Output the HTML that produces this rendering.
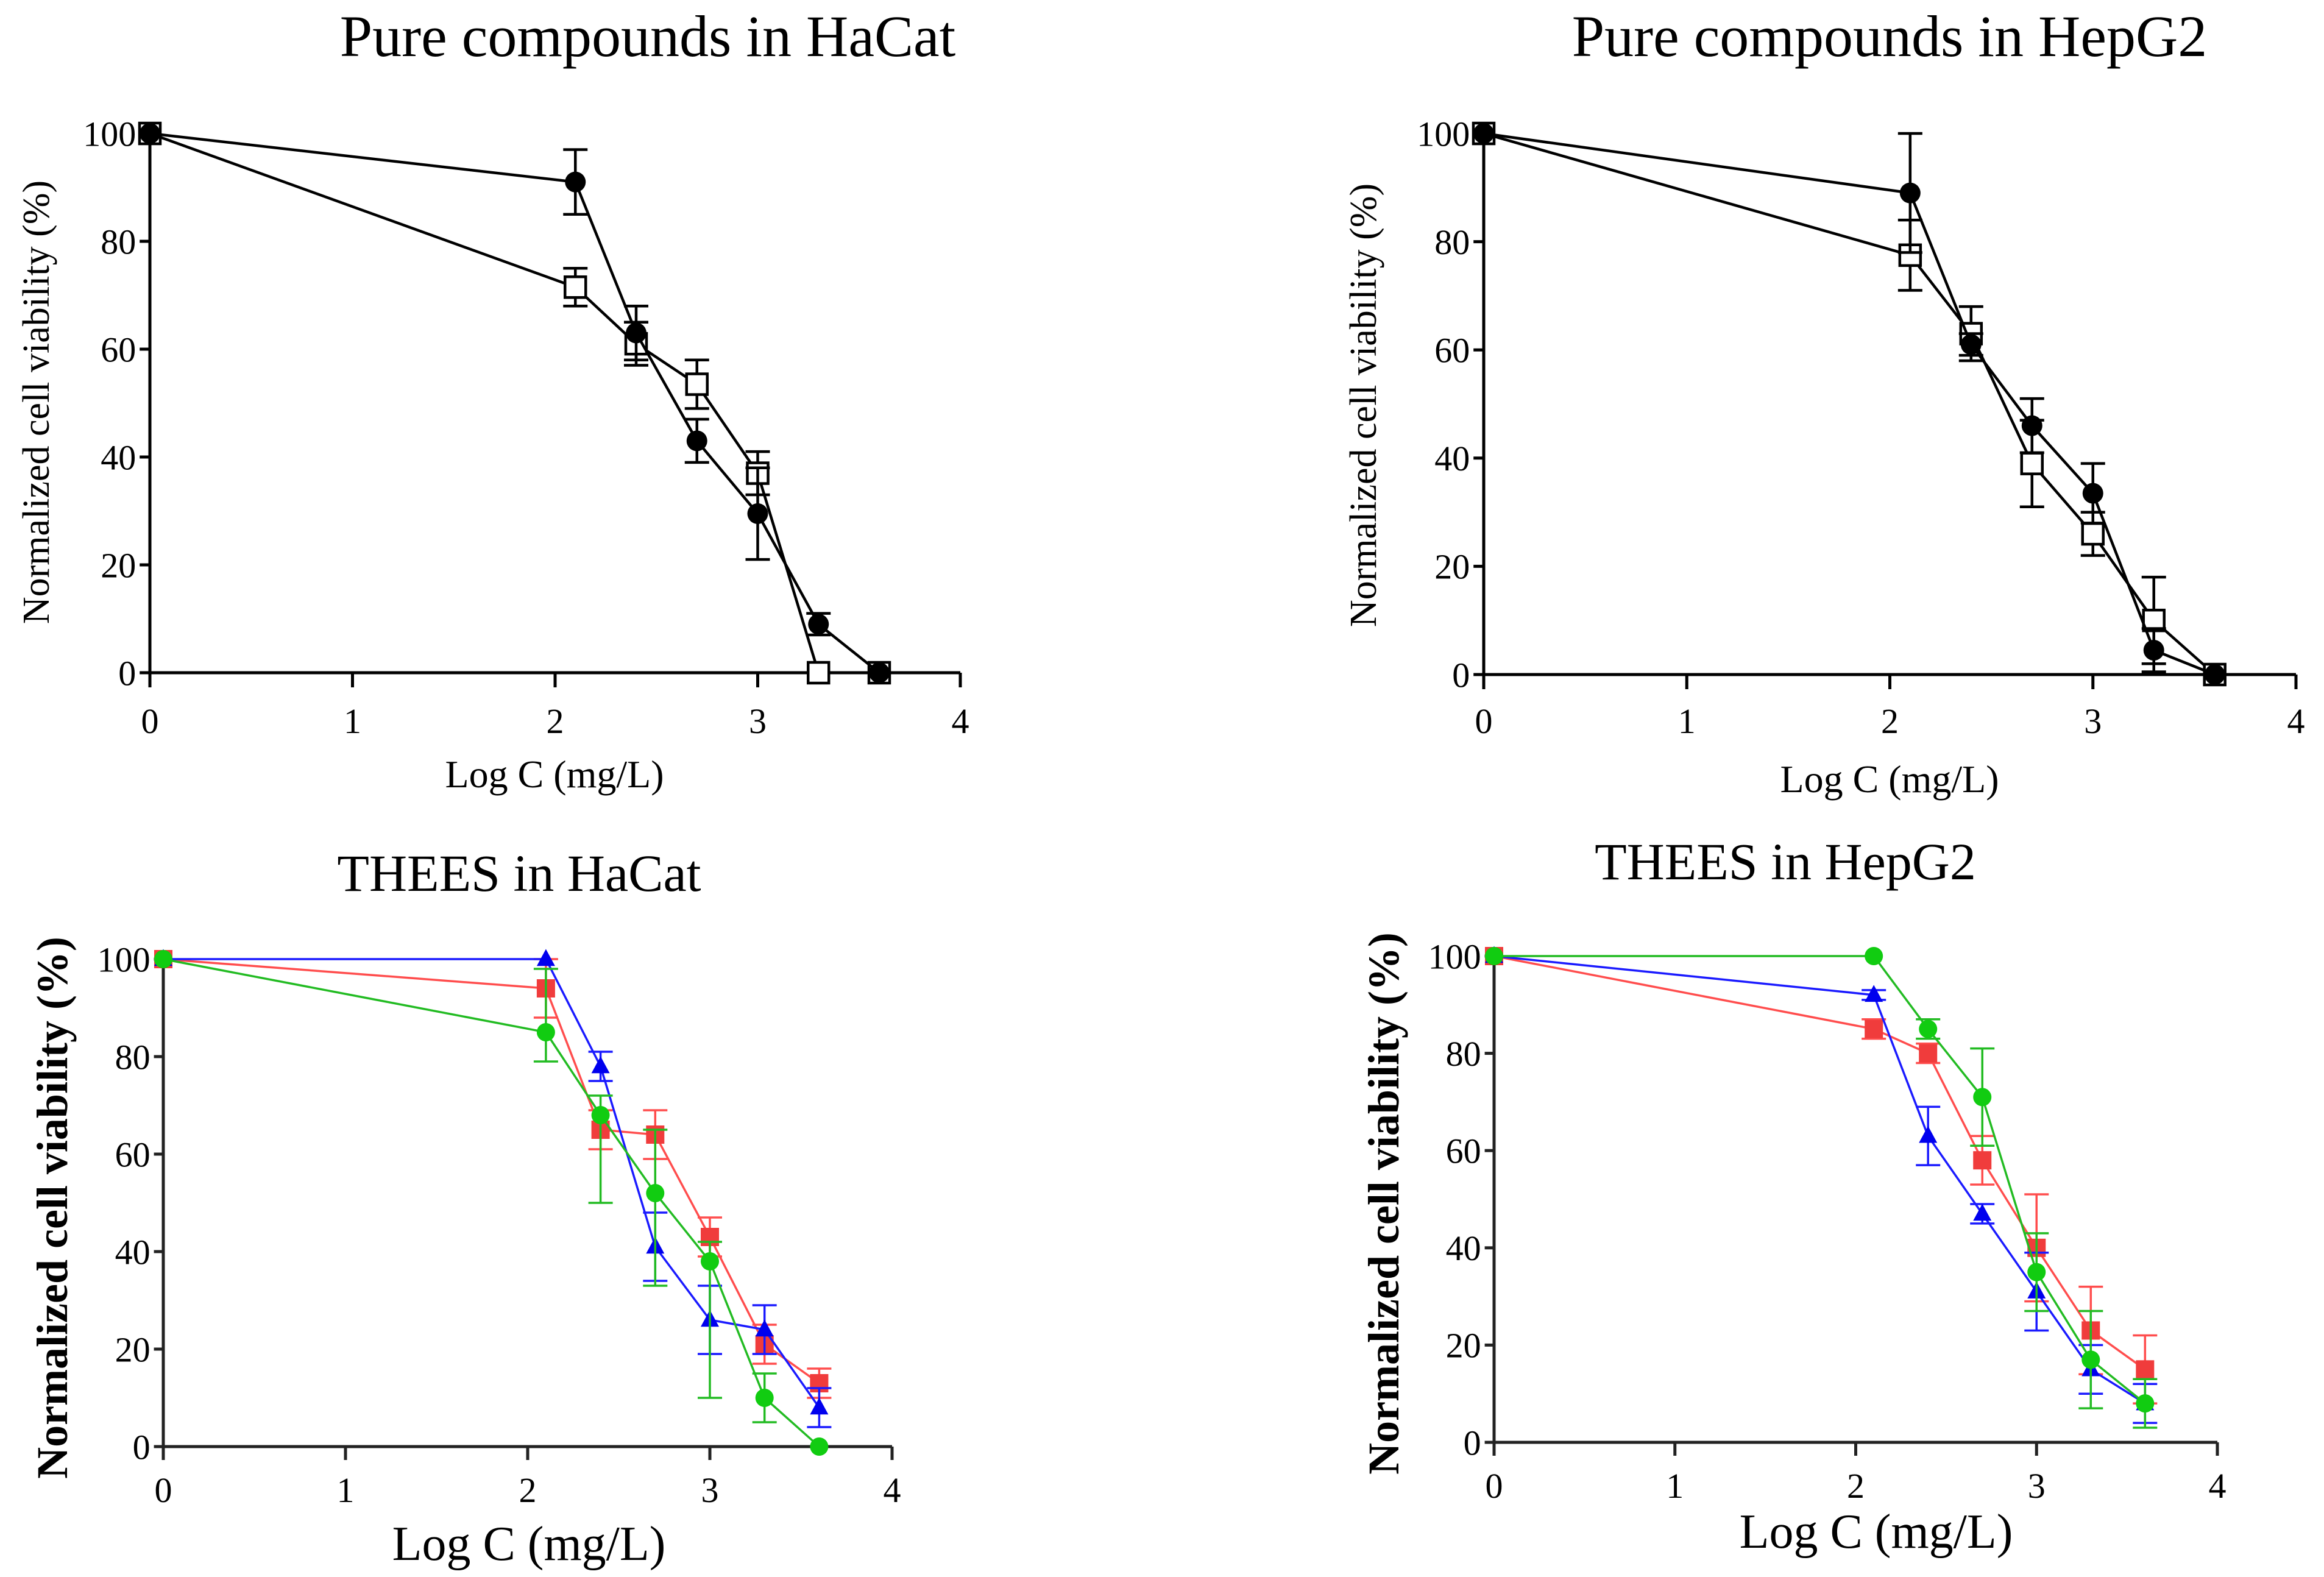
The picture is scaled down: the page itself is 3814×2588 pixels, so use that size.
<!DOCTYPE html>
<html><head><meta charset="utf-8"><style>
html,body{margin:0;padding:0;background:#fff;}
svg{display:block;font-family:"Liberation Serif",serif;}
</style></head><body>
<svg id="fig" width="3814" height="2588" viewBox="0 0 3814 2588" xmlns="http://www.w3.org/2000/svg"></svg>
<script>
const xVals = [0, 2.1, 2.4, 2.7, 3.0, 3.3, 3.6];
const xTicks = [0, 1, 2, 3, 4];
const yTicks = [0, 20, 40, 60, 80, 100];
// Panel A: pure compounds in HaCat
const aCircle = [100, 91, 63, 43, 29.5, 9, 0];
const aCircleErr = [0, 6, 5, 4, 8.5, 2, 0];
const aSquare = [100, 71.5, 61, 53.5, 37, 0, 0];
const aSquareErr = [0, 3.5, 4, 4.5, 4, 0, 0];
// Panel B: pure compounds in HepG2
const bCircle = [100, 89, 61, 46, 33.5, 4.5, 0];
const bCircleErr = [0, 11, 2, 5, 5.5, 4, 0];
const bSquare = [100, 77.5, 63, 39, 26, 10, 0];
const bSquareErr = [0, 6.5, 5, 8, 4, 8, 0];
// Panel C: THEES in HaCat
const cRed = [100, 94, 65, 64, 43, 21, 13];
const cRedErr = [0, 6, 4, 5, 4, 4, 3];
const cBlue = [100, 100, 78, 41, 26, 24, 8];
const cBlueErr = [0, 0, 3, 7, 7, 5, 4];
const cGreen = [100, 85, 68, 52, 38, 10, 0];
const cGreenErrHi = [0, 13, 4, 13, 4, 5, 0];
const cGreenErrLo = [0, 6, 18, 19, 28, 5, 0];
// Panel D: THEES in HepG2
const dRed = [100, 85, 80, 58, 40, 23, 15];
const dRedErr = [0, 2, 2, 5, 11, 9, 7];
const dBlue = [100, 92, 63, 47, 31, 15, 8];
const dBlueErr = [0, 1, 6, 2, 8, 5, 4];
const dGreen = [100, 100, 85, 71, 35, 17, 8];
const dGreenErr = [0, 0, 2, 10, 8, 10, 5];

const NS = "http://www.w3.org/2000/svg";
const svg = document.getElementById('fig');
function mk(tag, attrs, parent, text){
  const e = document.createElementNS(NS, tag);
  for (const k in attrs) e.setAttribute(k, attrs[k]);
  if (text !== undefined) e.textContent = text;
  (parent || svg).appendChild(e);
  return e;
}

function panel(p){
  const g = mk('g', {});
  
  
  const sx = v => p.x0 + (p.x1 - p.x0) * v / 4;
  const sy = v => p.y0 + (p.y1 - p.y0) * v / 100;
  const t = mk('text', {x: p.tx, y: p.ty, 'font-size': p.titleSize, 'text-anchor': 'middle'}, g, p.title);
  
  
  const ax = mk('g', {stroke: p.axisColor, 'stroke-width': p.axisW, fill: 'none'}, g);
  
  
  mk('line', {x1: p.x0, y1: sy(0), x2: p.x1, y2: sy(0)}, ax);
  mk('line', {x1: p.x0, y1: sy(0), x2: p.x0, y2: sy(100)}, ax);
  xTicks.forEach(v => {
    mk('line', {x1: sx(v), y1: sy(0), x2: sx(v), y2: sy(0) + p.tickLen}, ax);
    const l = mk('text', {x: sx(v), y: p.xLabY, 'font-size': p.tickSize, 'text-anchor': 'middle'}, g, String(v));
    
    
  });
  yTicks.forEach(v => {
    mk('line', {x1: p.x0 - p.tickLen * 0.7, y1: sy(v), x2: p.x0, y2: sy(v)}, ax);
    const l = mk('text', {x: p.x0 - p.tickLen * 0.7 - 6, y: sy(v) + p.tickSize * 0.35, 'font-size': p.tickSize, 'text-anchor': 'end'}, g, String(v));
    
    
  });
  const xt = mk('text', {x: p.xTitleX, y: p.xTitleY, 'font-size': p.xTitleSize, 'text-anchor': 'middle'}, g, 'Log C (mg/L)');
  
  
  const yc = p.yTitleC;
  const yt = mk('text', {x: p.yTitleX, y: yc, 'font-size': p.yTitleSize, 'text-anchor': 'middle', 'font-weight': p.bold ? 'bold' : 'normal', transform: `rotate(-90 ${p.yTitleX} ${yc})`}, g, 'Normalized cell viability (%)');
  
  

  p.series.forEach(s => {
    const sg = mk('g', {}, g);
    
    
    const hi = s.errHi || s.err, lo = s.errLo || s.err;
    s.vals.forEach((v, i) => {
      if (!hi[i] && !lo[i]) return;
      const x = sx(xVals[i]);
      const w = p.capW;
      const top = sy(v + hi[i]), bot = sy(v - lo[i]);
      mk('path', {d: `M${x} ${top}V${bot}M${x - w} ${top}H${x + w}M${x - w} ${bot}H${x + w}`, stroke: s.errColor || s.color, 'stroke-width': p.lineW, fill: 'none'}, sg);
    });
    mk('polyline', {points: s.vals.map((v, i) => sx(xVals[i]) + ',' + sy(v)).join(' '), stroke: s.color, 'stroke-width': p.lineW, fill: 'none'}, sg);
    s.vals.forEach((v, i) => {
      const x = sx(xVals[i]), y = sy(v), r = p.mr;
      let m;
      if (s.marker === 'circle') m = mk('circle', {cx: x, cy: y, r: r, fill: s.fill}, sg);
      else if (s.marker === 'square') m = mk('rect', {x: x - r, y: y - r, width: 2 * r, height: 2 * r, fill: s.fill, stroke: s.stroke || 'none', 'stroke-width': s.stroke ? 4.5 : 0}, sg);
      else m = mk('path', {d: `M${x} ${y - r * 1.1}L${x + r} ${y + r * 0.75}L${x - r} ${y + r * 0.75}Z`, fill: s.fill}, sg);
      
      
    });
  });
}

const topCommon = {axisColor: '#000', axisW: 5, tickLen: 24, tickSize: 58, lineW: 4.5, capW: 20, mr: 17, titleSize: 96, xTitleSize: 64, yTitleSize: 62, bold: false};
const botCommon = {axisColor: '#222', axisW: 5, tickLen: 22, tickSize: 58, lineW: 3.5, capW: 20, mr: 15, titleSize: 86, xTitleSize: 80, yTitleSize: 72, bold: true};

panel(Object.assign({}, topCommon, {name: 'chart-pure-hacat', title: 'Pure compounds in HaCat', tx: 1063, ty: 92, x0: 246, x1: 1576, y0: 1104, y1: 219, xLabY: 1203, xTitleX: 910, xTitleY: 1292, yTitleX: 80, yTitleC: 660,
  series: [
    {name: 'series-square', vals: aSquare, err: aSquareErr, color: '#000', marker: 'square', fill: '#fff', stroke: '#000'},
    {name: 'series-circle', vals: aCircle, err: aCircleErr, color: '#000', marker: 'circle', fill: '#000'}
  ]}));
panel(Object.assign({}, topCommon, {name: 'chart-pure-hepg2', title: 'Pure compounds in HepG2', tx: 3101, ty: 92, x0: 2435, x1: 3768, y0: 1107, y1: 219, xLabY: 1203, xTitleX: 3101, xTitleY: 1300, yTitleX: 2258, yTitleC: 665,
  series: [
    {name: 'series-square', vals: bSquare, err: bSquareErr, color: '#000', marker: 'square', fill: '#fff', stroke: '#000'},
    {name: 'series-circle', vals: bCircle, err: bCircleErr, color: '#000', marker: 'circle', fill: '#000'}
  ]}));
panel(Object.assign({}, botCommon, {name: 'chart-thees-hacat', title: 'THEES in HaCat', tx: 852, ty: 1462, x0: 268, x1: 1464, y0: 2374, y1: 1574, xLabY: 2465, xTitleX: 868, xTitleY: 2560, yTitleX: 110, yTitleC: 1982,
  series: [
    {name: 'series-red', vals: cRed, err: cRedErr, color: '#ff4d4d', marker: 'square', fill: '#f03c3c'},
    {name: 'series-blue', vals: cBlue, err: cBlueErr, color: '#1a1aff', marker: 'triangle', fill: '#0000ee'},
    {name: 'series-green', vals: cGreen, errHi: cGreenErrHi, errLo: cGreenErrLo, color: '#22bb22', marker: 'circle', fill: '#11cc11'}
  ]}));
panel(Object.assign({}, botCommon, {name: 'chart-thees-hepg2', title: 'THEES in HepG2', tx: 2930, ty: 1443, x0: 2452, x1: 3639, y0: 2367, y1: 1569, xLabY: 2458, xTitleX: 3079, xTitleY: 2540, yTitleX: 2295, yTitleC: 1975,
  series: [
    {name: 'series-red', vals: dRed, err: dRedErr, color: '#ff4d4d', marker: 'square', fill: '#f03c3c'},
    {name: 'series-blue', vals: dBlue, err: dBlueErr, color: '#1a1aff', marker: 'triangle', fill: '#0000ee'},
    {name: 'series-green', vals: dGreen, err: dGreenErr, color: '#22bb22', marker: 'circle', fill: '#11cc11'}
  ]}));
</script>
</body></html>
